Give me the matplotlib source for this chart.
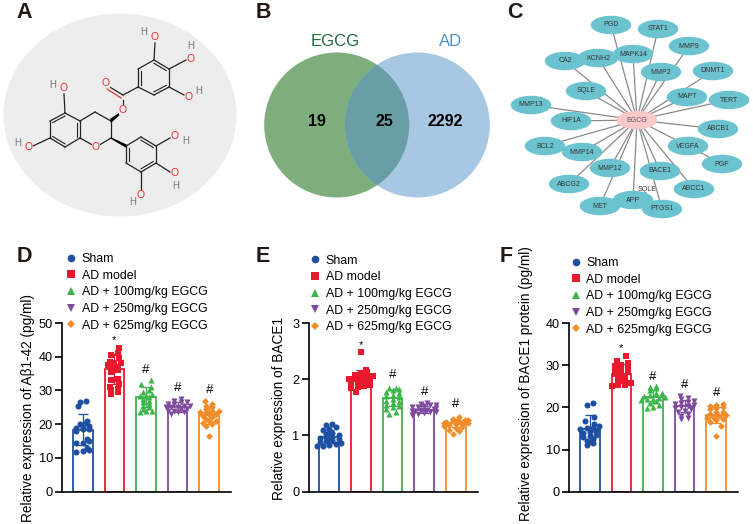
import numpy as np
import matplotlib
matplotlib.use('Agg')
import matplotlib.pyplot as plt
from matplotlib.patches import Ellipse, Circle, Polygon

plt.rcParams['font.family'] = ['Liberation Sans', 'DejaVu Sans']

W, H = 753, 524

# ---- bar panels data ----
groups = ['Sham', 'AD model', 'AD + 100mg/kg EGCG', 'AD + 250mg/kg EGCG', 'AD + 625mg/kg EGCG']
colors = ['#1f4fa0', '#e8192c', '#3bb54a', '#7f4a9e', '#f28c28']
markers = ['o', 's', '^', 'v', 'D']

d_means = [18.4, 36.3, 28.0, 25.0, 22.8]
d_sds = [4.5, 4.4, 3.0, 1.5, 2.7]
d_points = [
    [26.8, 26.5, 25.5, 21, 20.5, 20, 19.5, 19, 19, 18.5, 18.5, 18, 15.5, 15, 14.5, 14.5, 13, 12.5, 12, 11.8],
    [42.5, 41, 40.5, 39.5, 38.5, 38, 38, 37.5, 37, 36.5, 36, 35.5, 33.5, 33, 32, 31, 30.5, 30, 29.5, 29],
    [33, 32, 31, 30, 29.5, 29, 28.5, 28.5, 28, 27.5, 27, 26.5, 26, 25.5, 25, 24.5, 24, 24, 23.5],
    [27.5, 27, 26.5, 26.5, 26, 26, 25.5, 25.5, 25, 25, 25, 24.5, 24.5, 24, 24, 23.5, 23.5, 23],
    [27, 26, 25.5, 25, 24.5, 24, 24, 23.5, 23.5, 23, 23, 22.5, 22, 21.5, 21, 21, 20.5, 20, 19.5, 16.5],
]
d_marks = [45, 36, 30.7, 30]

e_means = [0.98, 2.0, 1.66, 1.46, 1.22]
e_sds = [0.12, 0.16, 0.14, 0.06, 0.07]
e_points = [
    [1.2, 1.18, 1.15, 1.12, 1.1, 1.05, 1.02, 1.0, 0.98, 0.97, 0.95, 0.93, 0.92, 0.9, 0.88, 0.87, 0.85, 0.83, 0.82, 0.81],
    [2.49, 2.17, 2.12, 2.1, 2.07, 2.05, 2.03, 2.02, 2.0, 2.0, 1.98, 1.97, 1.95, 1.93, 1.9, 1.88, 1.87, 1.85, 1.77],
    [1.85, 1.84, 1.82, 1.8, 1.78, 1.75, 1.72, 1.7, 1.68, 1.65, 1.62, 1.6, 1.58, 1.55, 1.52, 1.5, 1.47, 1.42, 1.39],
    [1.58, 1.56, 1.55, 1.54, 1.52, 1.5, 1.5, 1.48, 1.47, 1.46, 1.45, 1.44, 1.43, 1.42, 1.41, 1.4, 1.38, 1.36],
    [1.33, 1.3, 1.28, 1.27, 1.26, 1.25, 1.24, 1.23, 1.22, 1.21, 1.2, 1.18, 1.17, 1.15, 1.13, 1.1, 1.08, 1.03],
]
e_marks = [2.6, 2.07, 1.77, 1.56]

f_means = [14.8, 28.0, 22.5, 20.3, 18.2]
f_sds = [3.4, 2.3, 1.5, 1.4, 1.9]
f_points = [
    [21, 20.5, 17.8, 16.8, 16, 15.5, 15.2, 15, 14.8, 14.5, 14.2, 14, 13.5, 13.2, 13, 12.5, 12, 11.5, 11],
    [32.2, 31, 30.5, 30, 29.8, 29.5, 29, 28.8, 28.5, 28, 27.8, 27.5, 27, 26.5, 26, 25.7, 25.3, 25.2, 25],
    [25, 24.8, 24.5, 24, 23.5, 23.5, 23, 22.8, 22.5, 22.3, 22, 22, 21.8, 21.5, 21, 20.5, 20, 19.8],
    [22.8, 22.3, 22, 21.5, 21.2, 21, 20.8, 20.5, 20.3, 20, 19.8, 19.5, 19.2, 19, 18.5, 18, 17.5, 17.2],
    [20.8, 20.6, 20.4, 20, 19.8, 19.5, 19, 18.8, 18.5, 18.2, 18, 17.8, 17.5, 17.2, 17, 16.5, 15.5, 13.2],
]
f_marks = [34, 27.3, 25.4, 23.4]

# ---- venn ----
venn_counts = ['19', '25', '2292']

# ---- network, (name, x, y) in picture pixels ----
hub = ('EGCG', 637, 120)
net_nodes = [
    ('PGD', 611, 25), ('STAT1', 658, 29), ('MMP9', 689, 46), ('DNMT1', 713, 71),
    ('TERT', 729, 100), ('MMP13', 531, 105), ('HIF1A', 571, 121), ('ABCB1', 718, 129),
    ('ABCC1', 694, 189), ('ABCG2', 569, 184), ('BCL2', 545, 146), ('PTGS1', 662, 209),
    ('MET', 600, 206), ('APP', 633, 200), ('MMP12', 610, 168), ('BACE1', 660, 171),
    ('MMP14', 582, 152), ('SQLE', 586, 91), ('CA2', 565, 61), ('KCNH2', 598, 58),
    ('MAPK14', 633, 54), ('MMP2', 661, 72), ('MAPT', 687, 97), ('VEGFA', 688, 146),
]
pgf_node = ('PGF', 722, 164)

# ---- molecule, atoms in picture pixels ----
ring_a = [(65, 113), (50, 121), (50, 138), (65, 147), (80, 138), (80, 121)]
pyran = [(80, 121), (95, 112), (111, 121), (111, 138), (96, 147), (80, 138)]
gallate = [(138, 87), (138, 69), (154, 60), (169, 69), (169, 87), (154, 95)]
ring_c = [(126, 146), (126, 163), (141, 172), (156, 163), (156, 146), (141, 137)]
double_a = [(0, 1), (2, 3), (4, 5)]
double_g = [(0, 1), (2, 3), (4, 5)]
double_c = [(0, 1), (2, 3), (4, 5)]
o_bonds = [((65, 113), (64, 94)), ((50, 138), (33, 146)), ((154, 60), (155, 43)),
           ((169, 69), (186, 60)), ((169, 87), (184, 95)), ((156, 146), (170, 138)),
           ((156, 163), (170, 172)), ((141, 172), (141, 189)), ((123, 108), (123, 100)),
           ((123, 95), (138, 87))]
oxygens = [(64, 88), (29, 147), (155, 37), (191, 59), (189, 97), (175, 136), (175, 173),
           (141, 195), (96, 147), (123, 110), (106, 83)]
hydrogens = [(53, 85), (18, 143), (144, 32), (191, 46), (199, 91), (186, 141), (176, 186), (133, 202)]


def swarm(vals, tol, step=0.2):
    # spreads close values sideways, same idea as a prism scatter column
    vals = np.sort(np.array(vals, dtype=float))
    xs = np.zeros(len(vals))
    i = 0
    row = 0
    while i < len(vals):
        j = i
        while j + 1 < len(vals) and vals[j + 1] - vals[i] < tol:
            j += 1
        n = j - i + 1
        xs[i:j + 1] = (np.arange(n) - (n - 1) / 2) * step
        # lone points stay off the middle unless they are far from the rest
        near = (i > 0 and vals[i] - vals[i - 1] < 2 * tol) or (j + 1 < len(vals) and vals[j + 1] - vals[j] < 2 * tol)
        if n == 1 and near:
            xs[i] = 0.15 if row % 2 else -0.15
        row += 1
        i = j + 1
    return np.clip(xs, -0.38, 0.38), vals


def bar_panel(fig, left, right, ymax, yticks, means, sds, points, marks, ylabel, ylab_x, ylab_y, leg_x, leg_y):
    y0, ytop = 491.7, 323
    ax = fig.add_axes([left / W, 1 - y0 / H, (right - left) / W, (y0 - ytop) / H])
    ax.patch.set_alpha(0)
    first = left + 20.7
    spacing = 31.65
    ax.set_xlim((left - first) / spacing, (right - first) / spacing)
    ax.set_ylim(0, ymax)
    pos = np.arange(5)
    ax.bar(pos, means, width=0.62, facecolor='white', edgecolor=colors, linewidth=1.3, zorder=2)
    for i in pos:
        ax.errorbar(i, means[i], yerr=sds[i], color=colors[i], capsize=3.5, lw=0.9, capthick=0.9, zorder=3)
        xs, ys = swarm(points[i], ymax / 50)
        ax.scatter(i + xs, ys, marker=markers[i], color=colors[i], s=19 if markers[i] != 'D' else 12,
                   linewidths=0, zorder=4, clip_on=False)
    ax.text(1, marks[0], '*', ha='center', va='center', fontsize=8)
    for i in [2, 3, 4]:
        ax.text(i, marks[i - 1], '#', ha='center', va='center', fontsize=9.5)
    for s in ['top', 'right']:
        ax.spines[s].set_visible(False)
    ax.spines['left'].set_linewidth(1.2)
    ax.spines['bottom'].set_linewidth(1.2)
    ax.set_xticks([])
    ax.set_yticks(yticks)
    ax.tick_params(axis='y', labelsize=9.2, width=1.2, length=5, pad=1.5)
    fig.text(ylab_x / W, 1 - ylab_y / H, ylabel, rotation=90, ha='center', va='center', fontsize=9.8)
    handles = [plt.Line2D([], [], ls='', marker=markers[i], color=colors[i],
                          ms=5.5 if markers[i] != 'D' else 4.2, mew=0, label=groups[i]) for i in pos]
    ax.legend(handles=handles, loc='upper left', bbox_to_anchor=(leg_x / W, 1 - leg_y / H),
              bbox_transform=fig.transFigure, frameon=False, fontsize=8.9, labelspacing=0.38,
              handlelength=0.7, handletextpad=0.5, borderpad=0, borderaxespad=0)
    return ax


fig = plt.figure(figsize=(W / 100, H / 100), dpi=100)
bg = fig.add_axes([0, 0, 1, 1])
bg.set_xlim(0, W)
bg.set_ylim(H, 0)
bg.axis('off')

# panel letters
for letter, x, y in [('A', 16, 12), ('B', 256, 12), ('C', 507, 12), ('D', 17, 257), ('E', 256, 257), ('F', 500, 257)]:
    bg.text(x, y, letter, fontsize=15.5, fontweight='bold', color='#231815', va='center', ha='left')

# A: molecule
bg.add_patch(Ellipse((120, 115), 233, 203, facecolor='#ededed', edgecolor='none', zorder=1))
for ring, dbl in [(ring_a, double_a), (gallate, double_g), (ring_c, double_c)]:
    arr = np.array(ring, dtype=float)
    c = arr.mean(axis=0)
    for k in range(6):
        a, b = arr[k], arr[(k + 1) % 6]
        bg.plot([a[0], b[0]], [a[1], b[1]], color='#222222', lw=0.9, zorder=2)
    for p, q in dbl:
        a = arr[p] + (c - arr[p]) * 0.18
        b = arr[q] + (c - arr[q]) * 0.18
        bg.plot([a[0], b[0]], [a[1], b[1]], color='#222222', lw=0.8, zorder=2)
arr = np.array(pyran, dtype=float)
for k in range(4):
    bg.plot(arr[k:k + 2, 0], arr[k:k + 2, 1], color='#222222', lw=0.9, zorder=2)
bg.plot([96, 80], [147, 138], color='#222222', lw=0.9, zorder=2)
for a, b in o_bonds:
    bg.plot([a[0], b[0]], [a[1], b[1]], color='#222222', lw=0.9, zorder=2)
bg.plot([123, 108], [95, 86], color='#222222', lw=0.9, zorder=2)
bg.plot([121, 107], [98, 89], color='#e8333a', lw=0.9, zorder=2)
bg.add_patch(Polygon([(111, 119), (111, 122), (122, 112)], color='black', zorder=2))
bg.add_patch(Polygon([(111, 138), (126, 145), (126, 147)], color='black', zorder=2))
for x, y in oxygens:
    bg.text(x, y, 'O', color='#ee2a30', fontsize=7.5, ha='center', va='center', zorder=3,
            bbox=dict(facecolor='#ededed', edgecolor='none', pad=0.3))
for x, y in hydrogens:
    bg.text(x, y, 'H', color='#777777', fontsize=7, ha='center', va='center', zorder=3)

# B: venn
c1 = Circle((336.7, 125), 72.5, facecolor='#7fae7d', edgecolor='none', zorder=1)
c2 = Circle((417.3, 125), 72.5, facecolor='#a8c7e2', edgecolor='none', zorder=2)
lens = Circle((336.7, 125), 72.5, facecolor='#699ea6', edgecolor='none', zorder=3)
bg.add_patch(c1)
bg.add_patch(c2)
bg.add_patch(lens)
lens.set_clip_path(Circle((417.3, 125), 72.5, transform=bg.transData))
bg.text(335, 41, 'EGCG', color='#1c6b3c', fontsize=12, ha='center', va='center')
bg.text(451, 41, 'AD', color='#4a90c8', fontsize=12, ha='center', va='center')
for txt, x in zip(venn_counts, [317, 384, 445]):
    bg.text(x, 122, txt, fontsize=11.5, fontweight='bold', ha='center', va='center', zorder=5)

# C: network
for name, x, y in net_nodes:
    bg.plot([hub[1], x], [hub[2], y], color='#8a8a8a', lw=0.9, zorder=1)
bg.plot([688, pgf_node[1]], [146, pgf_node[2]], color='#8a8a8a', lw=0.9, zorder=1)
for i, (name, x, y) in enumerate(net_nodes + [pgf_node]):
    bg.add_patch(Ellipse((x, y), 40.5, 18.5, facecolor='#6cc3d0', edgecolor='none', zorder=2 + i * 0.01))
    bg.text(x, y, name, fontsize=5, color='#333333', ha='center', va='center', zorder=3)
bg.add_patch(Ellipse((hub[1], hub[2]), 40.5, 18.5, facecolor='#fbc8c8', edgecolor='none', zorder=2.5))
bg.text(hub[1], hub[2], hub[0], fontsize=5, color='#555555', ha='center', va='center', zorder=3)
bg.text(647, 189.5, 'SQLE', fontsize=5, color='#333333', ha='center', va='center', zorder=3)

# D, E, F
bar_panel(fig, 62, 231, 50, [0, 10, 20, 30, 40, 50], d_means, d_sds, d_points, d_marks,
          'Relative expression of Aβ1-42 (pg/ml)', 28, 408.5, 66.7, 253)
bar_panel(fig, 308.5, 477.7, 3, [0, 1, 2, 3], e_means, e_sds, e_points, e_marks,
          'Relative expression of BACE1', 279, 408, 310.7, 254.6)
bar_panel(fig, 569, 738, 40, [0, 10, 20, 30, 40], f_means, f_sds, f_points, f_marks,
          'Relative expression of BACE1 protein (pg/ml)', 526, 384, 571.4, 257)

fig.savefig('out.png', dpi=100)
